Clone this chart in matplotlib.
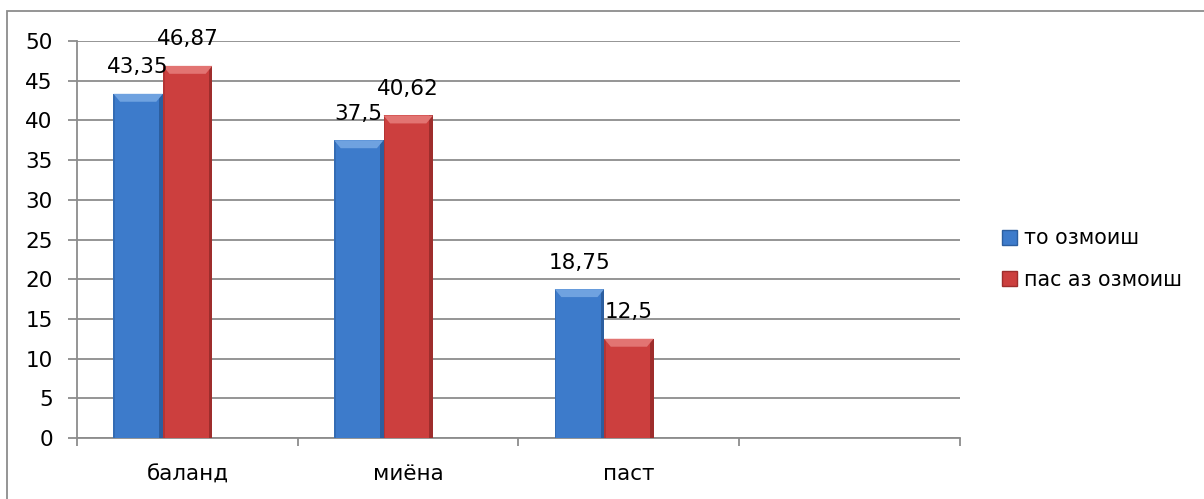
import matplotlib.pyplot as plt
import numpy as np
from matplotlib.patches import Rectangle, Polygon

categories = ['баланд', 'миёна', 'паст', '']
series_names = ['то озмоиш', 'пас аз озмоиш']
before = [43.35, 37.5, 18.75]
after = [46.87, 40.62, 12.5]
before_labels = ['43,35', '37,5', '18,75']
after_labels = ['46,87', '40,62', '12,5']

plt.rcParams['font.family'] = ['DejaVu Sans']
plt.rcParams['font.size'] = 15.5

blue = '#3D7BCB'
blue_dark = '#2C5E9F'
blue_light = '#6FA2E0'
red = '#CC3F3E'
red_dark = '#9E2D2C'
red_light = '#E27472'
grey = '#8C8C8C'

fig = plt.figure(figsize=(12.04, 4.99), dpi=100)
ax = fig.add_axes([0.064, 0.1222, 0.733, 0.7956])

width = 0.224


def bevel_bar(x, h, face, dark, light):
    # plain column with a darker right edge and a lighter top bevel
    x0 = x - width / 2
    ax.add_patch(Rectangle((x0, 0), width, h, facecolor=face, edgecolor='none', zorder=3))
    ax.add_patch(Rectangle((x0 + width - 0.016, 0), 0.016, h, facecolor=dark,
                           edgecolor='none', zorder=3))
    ax.add_patch(Rectangle((x0, 0), 0.008, h, facecolor=dark, alpha=0.5,
                           edgecolor='none', zorder=3))
    ax.add_patch(Polygon([(x0, h), (x0 + width, h), (x0 + width - 0.03, h - 1.0),
                          (x0 + 0.03, h - 1.0)], closed=True, facecolor=light,
                         edgecolor='none', zorder=4))


idx = np.arange(len(before))
for i in idx:
    bevel_bar(i - 0.223, before[i], blue, blue_dark, blue_light)
    bevel_bar(i + 0.001, after[i], red, red_dark, red_light)
    ax.annotate(before_labels[i], (i - 0.223, before[i]), xytext=(0, 19),
                textcoords='offset points', ha='center', va='center', zorder=5)
    ax.annotate(after_labels[i], (i + 0.001, after[i]), xytext=(0, 19),
                textcoords='offset points', ha='center', va='center', zorder=5)

ax.set_xlim(-0.5, 3.5)
ax.set_ylim(0, 50)
ax.set_yticks(np.arange(0, 51, 5))
ax.set_xticks(range(len(categories)))
ax.set_xticklabels(categories)
ax.set_xticks(np.arange(-0.5, 3.6, 1), minor=True)
ax.tick_params(axis='x', which='major', length=0, pad=19)
ax.tick_params(axis='x', which='minor', length=5.5, color=grey, width=1.3)
ax.tick_params(axis='y', length=6.5, color=grey, width=1.3, pad=11)
ax.yaxis.grid(True, color=grey, linewidth=1.3)
ax.set_axisbelow(True)
for s in ['top', 'right']:
    ax.spines[s].set_visible(False)
for s in ['left', 'bottom']:
    ax.spines[s].set_color(grey)
    ax.spines[s].set_linewidth(1.3)

handles = [Rectangle((0, 0), 1, 1, facecolor=blue, edgecolor=blue_dark),
           Rectangle((0, 0), 1, 1, facecolor=red, edgecolor=red_dark)]
fig.legend(handles, series_names, loc='center left',
           bbox_to_anchor=(983 / 1204, 1 - 259 / 499), frameon=False,
           handlelength=0.75, handleheight=0.75, handletextpad=0.35,
           labelspacing=1.05, fontsize=14.8)

# outer chart frame
fig.patches.append(Rectangle((7 / 1204, -0.1), 1.2, 0.1 + 1 - 11 / 499,
                             transform=fig.transFigure, fill=False,
                             edgecolor=grey, linewidth=1.3))

fig.savefig('out.png', dpi=100)
